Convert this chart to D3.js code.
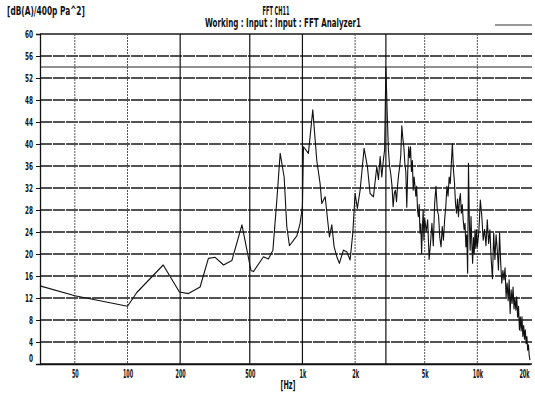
<!DOCTYPE html>
<html>
<head>
<meta charset="utf-8">
<script src="https://cdn.jsdelivr.net/npm/d3@7"></script>
<style>
  html, body { margin: 0; padding: 0; background: #fff; }
  svg { display: block; }
  text { font-family: "DejaVu Sans Condensed", "Liberation Sans Narrow", sans-serif; fill: #111; font-weight: bold; }
</style>
</head>
<body>
<svg id="chart" width="535" height="393"></svg>
<script>
// FFT spectrum of channel 11: frequency bins (Hz) and A-weighted level (dB)
const freqHz = [
  31.6, 50, 100, 113, 160, 198, 223, 260, 290, 317, 354, 395, 451, 508, 525, 599, 639, 678, 714, 746,
  786, 814, 843, 929, 970, 1000, 1014, 1082, 1146, 1208, 1262, 1290, 1349, 1427, 1472, 1518, 1573, 1627, 1715, 1793,
  1873, 1941, 2000, 2061, 2137, 2252, 2352, 2437, 2547, 2662, 2720, 2782, 2843, 2900, 2950,
  3000, 3050, 3100, 3150, 3200, 3250, 3300, 3350, 3400, 3450, 3500, 3550, 3600, 3650, 3700, 3750, 3800, 3850, 3900, 3950,
  4000, 4050, 4100, 4150, 4200, 4250, 4300, 4350, 4400, 4450, 4500, 4550, 4600, 4650, 4700, 4750, 4800, 4850, 4900, 4950, 5000,
  5100, 5200, 5300, 5400, 5500, 5600, 5700, 5800, 5900, 6000, 6100, 6200, 6300, 6400, 6500, 6600, 6700, 6800, 6900, 7000,
  7100, 7200, 7300, 7400, 7500, 7600, 7700, 7800, 7900, 8000, 8100, 8200, 8300, 8400, 8500, 8600, 8700, 8800, 8900, 9000,
  9100, 9200, 9300, 9400, 9500, 9600, 9700, 9800, 9900, 10000,
  10200, 10400, 10600, 10800, 11000, 11200, 11400, 11600, 11800, 12000, 12200, 12400, 12600, 12800, 13000, 13200, 13400, 13600, 13800, 14000,
  14200, 14400, 14600, 14800, 15000, 15200, 15400, 15600, 15800, 16000, 16200, 16400, 16600, 16800, 17000, 17200, 17400, 17600, 17800, 18000,
  18200, 18400, 18600, 18800, 19000, 19200, 19400, 19600, 19800, 20000
];
const levelDb = [
  14.2, 12.4, 10.5, 13.0, 18.0, 13.1, 12.8, 14.0, 19.2, 19.4, 18.0, 18.8, 25.3, 17.0, 16.8, 19.5, 19.1, 20.7, 29.8, 38.3,
  34.0, 25.0, 21.5, 23.3, 25.6, 28.6, 39.5, 38.3, 46.2, 37.0, 32.8, 29.2, 30.4, 23.1, 25.3, 21.3, 19.5, 18.3, 20.7, 20.4,
  18.9, 23.8, 31.0, 28.3, 31.6, 39.2, 35.9, 31.0, 30.4, 35.9, 33.5, 37.7, 34.0, 37.0, 38.9,
  54.0, 46.0, 39.0, 36.0, 34.5, 32.5, 28.6, 31.0, 31.6, 29.5, 32.5, 34.5, 35.9, 38.0, 43.3, 41.0, 39.5, 36.5, 35.0, 28.5,
  35.0, 39.5, 37.5, 39.5, 35.0, 37.0, 31.6, 34.0, 32.3, 30.5, 32.3, 28.0, 26.8, 29.0, 23.8, 25.5, 20.1, 24.5, 28.0, 22.5, 26.5,
  24.0, 26.2, 19.0, 22.0, 25.6, 21.5, 29.2, 32.3, 28.0, 27.0, 23.0, 21.3, 25.0, 22.5, 26.2, 28.6, 32.3, 30.5, 34.0, 32.8,
  36.5, 40.1, 35.3, 33.0, 29.2, 27.4, 30.0, 26.8, 29.8, 31.0, 27.4, 29.0, 26.2, 24.4, 25.6, 21.3, 23.5, 16.5, 36.5, 26.0,
  20.7, 26.8, 22.0, 18.3, 23.0, 20.1, 24.4, 21.0, 24.4, 21.3,
  24.0, 29.8, 27.0, 22.5, 24.5, 21.5, 26.2, 21.9, 24.4, 19.0, 15.5, 23.8, 19.0, 23.5, 20.7, 17.1, 23.8, 18.3, 14.7, 17.0,
  15.3, 17.5, 12.2, 14.7, 11.5, 15.3, 9.2, 13.5, 11.0, 14.0, 10.0, 12.0, 9.8, 12.2, 8.5, 10.5, 6.2, 8.6, 6.0, 8.6,
  5.0, 7.0, 4.5, 6.2, 3.7, 5.0, 2.5, 3.5, 1.5, 0.7
];

const yTicks = [0, 4, 8, 12, 16, 20, 24, 28, 32, 36, 40, 44, 48, 52, 56, 60];
const xTicks = [50, 100, 200, 500, 1000, 2000, 5000, 10000, 20000];
const xTickLabels = ["50", "100", "200", "500", "1k", "2k", "5k", "10k", "20k"];
const xGridHz = [50, 100, 200, 500, 1000, 2000, 3000, 5000, 10000];
const xGridSolidHz = [200, 500, 1000, 3000];

const svg = d3.select("#chart");
const plotLeft = 40, plotRight = 530, plotTop = 34, plotBottom = 364;

const x = d3.scaleLog().domain([31.6, 20000]).range([plotLeft, plotRight]);
const y = d3.scaleLinear().domain([0, 60]).range([plotBottom, plotTop]);

// squeeze a text horizontally to a target width, scaling about its anchor point
function narrow(sel, width) {
  sel.each(function() {
    const w = this.getComputedTextLength();
    const s = w > 0 ? width / w : 1;
    const ax = +(this.getAttribute("x") || 0);
    this.setAttribute("transform", `translate(${ax},0) scale(${s},1) translate(${-ax},0)`);
  });
}

// header texts
svg.append("text").attr("x", 7).attr("y", 15).attr("font-size", 11.5)
  .text("[dB(A)/400p Pa^2]").call(narrow, 78);
svg.append("text").attr("x", 276).attr("y", 15).attr("font-size", 11.5).attr("text-anchor", "middle")
  .text("FFT CH11").call(narrow, 27);
svg.append("text").attr("x", 283).attr("y", 27.5).attr("font-size", 11.5).attr("text-anchor", "middle")
  .text("Working : Input : Input : FFT Analyzer1").call(narrow, 156);

// legend swatch for the trace
svg.append("line").attr("x1", 495).attr("x2", 532).attr("y1", 25).attr("y2", 25)
  .attr("stroke", "#333").attr("stroke-width", 1);

// horizontal grid
const grid = svg.append("g");
grid.selectAll("line.h").data(yTicks).join("line").attr("class", "h")
  .attr("x1", plotLeft).attr("x2", plotRight + 2)
  .attr("y1", d => y(d)).attr("y2", d => y(d))
  .attr("stroke", "#1a1a1a").attr("stroke-width", 1.3)
  .attr("stroke-dasharray", d => d === 0 || d === 60 ? null : "12,1");

// vertical grid
grid.selectAll("line.v").data(xGridHz).join("line").attr("class", "v")
  .attr("x1", d => x(d)).attr("x2", d => x(d))
  .attr("y1", plotTop).attr("y2", plotBottom)
  .attr("stroke", d => xGridSolidHz.includes(d) ? "#111" : "#555")
  .attr("stroke-width", d => xGridSolidHz.includes(d) ? 1.2 : 1)
  .attr("stroke-dasharray", d => xGridSolidHz.includes(d) ? null : "2,1");

// peak level marker
const peak = d3.max(levelDb);
grid.append("line").attr("x1", plotLeft).attr("x2", plotRight + 2)
  .attr("y1", y(peak)).attr("y2", y(peak))
  .attr("stroke", "#222").attr("stroke-width", 1);

// axes
const yAxis = svg.append("g").attr("transform", `translate(${plotLeft},0)`)
  .call(d3.axisLeft(y).tickValues(yTicks).tickSize(4).tickPadding(3));
yAxis.select(".domain").attr("stroke", "#111").attr("stroke-width", 1.3);
yAxis.selectAll(".tick line").attr("stroke", "#111");
yAxis.selectAll("text").attr("font-size", 11).attr("fill", "#111")
  .attr("dy", d => d === 0 ? "-0.25em" : "0.32em")
  .each(function(d) { d3.select(this).call(narrow, String(d).length * 4); });

const xAxis = svg.append("g").attr("transform", `translate(0,${plotBottom})`)
  .call(d3.axisBottom(x).tickValues(xTicks).tickSize(0).tickPadding(6)
    .tickFormat((d, i) => xTickLabels[i]));
xAxis.select(".domain").attr("stroke", "#111").attr("stroke-width", 1.3);
xAxis.selectAll("text").attr("font-size", 11.5).attr("fill", "#111")
  .attr("x", d => d === 20000 ? -6 : 0)
  .each(function(d, i) { d3.select(this).call(narrow, xTickLabels[i].length * 3.4); });

svg.append("text").attr("x", 288).attr("y", 389).attr("font-size", 11.5)
  .attr("text-anchor", "middle").text("[Hz]").call(narrow, 15);

// spectrum trace
const pts = freqHz.map((f, i) => [f, levelDb[i]]);
const line = d3.line().x(d => x(d[0])).y(d => y(d[1]));
svg.append("path").datum(pts).attr("d", line)
  .attr("fill", "none").attr("stroke", "#111").attr("stroke-width", 1.1)
  .attr("stroke-linejoin", "round");
</script>
</body>
</html>
